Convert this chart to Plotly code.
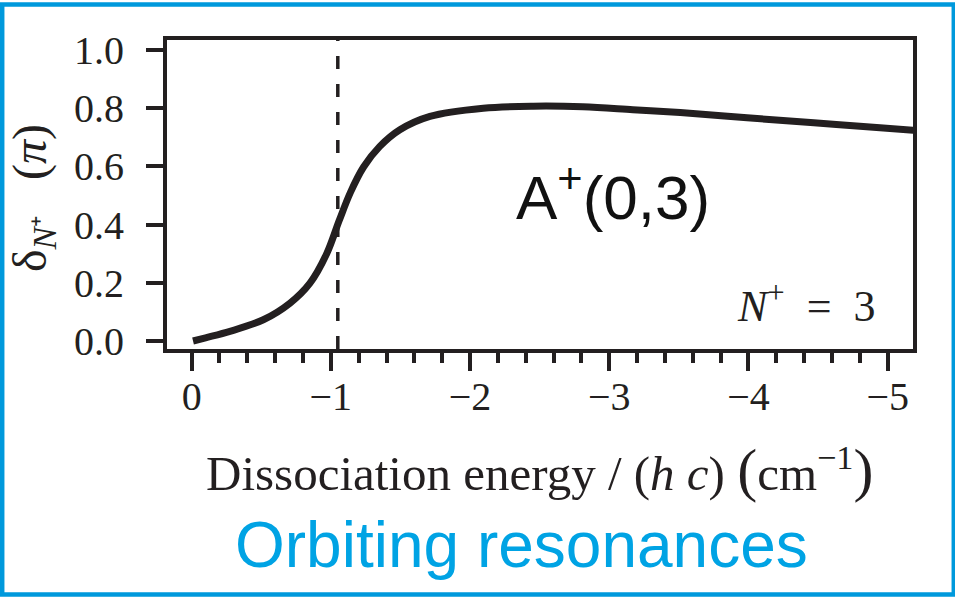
import plotly.graph_objects as go

# Phase shift of the N+ = 3 channel versus dissociation energy
energy = [-0.01, -0.1, -0.275, -0.515, -0.706, -0.85, -0.97, -1.06, -1.14,
          -1.235, -1.35, -1.496, -1.712, -2.095, -2.454, -2.81, -3.17, -3.51,
          -3.99, -4.47, -4.945, -5.2]
delta = [0.0, 0.011, 0.033, 0.073, 0.13, 0.199, 0.30, 0.414, 0.51,
         0.598, 0.668, 0.726, 0.772, 0.80, 0.807, 0.805, 0.795, 0.785,
         0.767, 0.750, 0.733, 0.724]

resonance_energy = -1.05

x_tickvals = [0, -1, -2, -3, -4, -5]
x_ticktext = ["0", "\u22121", "\u22122", "\u22123", "\u22124", "\u22125"]
y_tickvals = [0.0, 0.2, 0.4, 0.6, 0.8, 1.0]
y_ticktext = ["0.0", "0.2", "0.4", "0.6", "0.8", "1.0"]

W, H = 955, 597
M = dict(l=167, r=42, t=40, b=248)
INK = "#231f20"
BLUE = "#00a3e4"
SERIF = "Liberation Serif"
SANS = "Liberation Sans"


def px_x(p):
    return (p - M["l"]) / (W - M["l"] - M["r"])


def px_y(p):
    return (H - M["b"] - p) / (H - M["t"] - M["b"])


fig = go.Figure()
fig.add_trace(go.Scatter(
    x=energy, y=delta, mode="lines",
    line=dict(color=INK, width=7, shape="spline", smoothing=1.0),
    hoverinfo="skip", showlegend=False,
))

axis_common = dict(
    showline=True, linecolor=INK, linewidth=4, mirror=True,
    showgrid=False, zeroline=False,
    ticks="outside", tickwidth=4, tickcolor=INK,
    tickfont=dict(family=SERIF, size=40, color=INK),
)

fig.update_xaxes(
    range=[0.177, -5.182], tickmode="array",
    tickvals=x_tickvals, ticktext=x_ticktext, ticklen=18,
    minor=dict(dtick=0.2, tick0=0, ticks="outside", ticklen=10,
               tickwidth=4, tickcolor=INK, showgrid=False),
    ticklabelstandoff=-9,
    **axis_common,
)
fig.update_yaxes(
    range=[-0.0275, 1.0344], tickmode="array",
    tickvals=y_tickvals, ticktext=y_ticktext, ticklen=17,
    ticklabelstandoff=14,
    **axis_common,
)

# resonance position
fig.add_shape(type="line", xref="x", yref="paper",
              x0=resonance_energy, x1=resonance_energy, y0=0, y1=1,
              line=dict(color=INK, width=3.5, dash="13px,15px"))

# outer frame
fig.add_shape(type="rect", xref="paper", yref="paper",
              x0=px_x(2.2), x1=px_x(953.8), y0=px_y(594.5), y1=px_y(4.5),
              line=dict(color="#0099dc", width=4.5), layer="above")

SP = "\u2005"
annotations = [
    dict(text="A<sup>+</sup>(0,3)", x=px_x(613), y=px_y(193),
         font=dict(family=SANS, size=62, color="#111111")),
    dict(text=f"<i>N</i><sup>+</sup>{SP}{SP}={SP}{SP}3", x=px_x(806), y=px_y(303),
         font=dict(family=SERIF, size=44, color=INK)),
    dict(text=f"Dissociation energy{SP}/{SP}(<i>h{SP}c</i>){SP}"
              "<span style='font-size:60px'>(</span>cm<sup>\u22121</sup>"
              "<span style='font-size:60px'>)</span>",
         x=px_x(540), y=px_y(470),
         font=dict(family=SERIF, size=49, color=INK)),
    dict(text=f"\u03b4<sub><i>N</i>\u207a</sub>{SP}{SP}{SP}(<i>\u03c0</i>)",
         x=px_x(33), y=px_y(198), textangle=-90,
         font=dict(family=SERIF, size=48, color=INK)),
    dict(text="Orbiting resonances", x=px_x(521), y=px_y(545),
         font=dict(family=SANS, size=64, color=BLUE)),
]
for a in annotations:
    fig.add_annotation(xref="paper", yref="paper", showarrow=False,
                       xanchor="center", yanchor="middle", **a)

fig.update_layout(
    width=W, height=H, margin=M,
    paper_bgcolor="white", plot_bgcolor="white",
)

fig.write_html("out.html")
